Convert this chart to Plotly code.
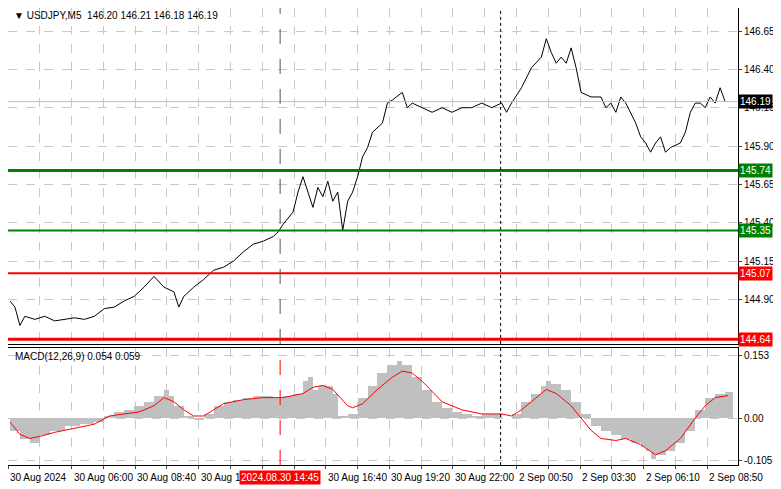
import plotly.graph_objects as go

# bar positions (5-minute bars, chart units) and close prices
bars = [5, 10, 15, 20, 30, 40, 50, 60, 70, 80, 90, 100, 110, 120, 130, 140, 150, 160, 170, 175,
        180, 190, 200, 210, 220, 230, 240, 250, 260, 270, 275, 280, 290, 295, 300, 305, 310, 315, 320, 325,
        330, 335, 340, 345, 350, 355, 360, 365, 370, 380, 385, 390, 400, 405, 410, 420, 430, 440, 450, 460,
        470, 480, 490, 500, 505, 510, 520, 530, 540, 545, 550, 555, 560, 565, 570, 575, 580, 590, 600, 605,
        610, 615, 620, 625, 630, 635, 640, 645, 650, 655, 660, 665, 670, 680, 685, 690, 695, 700, 705, 710,
        715, 720, 725]
close = [144.89, 144.85, 144.73, 144.79, 144.77, 144.79, 144.76, 144.77, 144.78, 144.77, 144.79, 144.84, 144.85, 144.89, 144.92, 144.98, 145.05, 144.98, 144.95, 144.85,
         144.92, 144.98, 145.03, 145.09, 145.11, 145.15, 145.21, 145.26, 145.28, 145.31, 145.34, 145.39, 145.47, 145.60, 145.70, 145.60, 145.50, 145.63, 145.57, 145.67,
         145.54, 145.60, 145.35, 145.54, 145.60, 145.70, 145.83, 145.89, 145.99, 146.05, 146.18, 146.20, 146.25, 146.15, 146.18, 146.15, 146.12, 146.15, 146.12, 146.15,
         146.15, 146.18, 146.15, 146.18, 146.12, 146.18, 146.28, 146.41, 146.48, 146.60, 146.51, 146.44, 146.48, 146.44, 146.54, 146.41, 146.25, 146.22, 146.22, 146.15,
         146.18, 146.12, 146.22, 146.18, 146.12, 146.05, 145.96, 145.92, 145.86, 145.92, 145.96, 145.86, 145.89, 145.92, 145.99, 146.12, 146.18, 146.18, 146.15, 146.22,
         146.18, 146.28, 146.19]

hist_x = [5, 15, 25, 35, 45, 60, 75, 90, 100, 110, 120, 130, 140, 150, 160, 165, 170, 180, 190, 200,
          210, 220, 230, 240, 250, 260, 270, 280, 290, 300, 305, 310, 315, 320, 330, 335, 340, 345, 355, 365,
          375, 385, 395, 400, 410, 420, 430, 440, 450, 460, 470, 480, 490, 500, 510, 520, 530, 540, 545, 550,
          560, 570, 580, 590, 600, 610, 620, 630, 640, 645, 650, 655, 665, 675, 685, 695, 705, 715, 725]
macd = [-0.03, -0.05, -0.06, -0.04, -0.03, -0.02, -0.015, -0.01, 0.005, 0.015, 0.02, 0.03, 0.04, 0.055, 0.07, 0.055, 0.03, 0.005, -0.005, 0.01,
        0.03, 0.04, 0.045, 0.05, 0.055, 0.055, 0.05, 0.055, 0.06, 0.09, 0.10, 0.07, 0.08, 0.08, 0.06, 0.005, 0.005, 0.01, 0.05, 0.08,
        0.11, 0.13, 0.14, 0.13, 0.10, 0.07, 0.04, 0.025, 0.015, 0.01, 0.005, 0.01, 0.01, 0.0, 0.01, 0.04, 0.06, 0.08, 0.09, 0.085,
        0.07, 0.04, 0.01, -0.02, -0.03, -0.04, -0.05, -0.06, -0.07, -0.08, -0.10, -0.09, -0.08, -0.06, -0.03, 0.02, 0.05, 0.06, 0.065]

sig_x = [5, 15, 25, 35, 50, 70, 90, 105, 120, 135, 150, 160, 170, 180, 190, 200, 210, 220, 240, 260,
         280, 300, 310, 320, 330, 345, 350, 360, 375, 390, 400, 410, 420, 440, 460, 480, 500, 510, 520, 535,
         545, 555, 570, 590, 600, 615, 625, 640, 655, 665, 680, 695, 705, 715, 728]
signal = [-0.01, -0.04, -0.05, -0.045, -0.035, -0.025, -0.015, 0.005, 0.01, 0.015, 0.03, 0.05, 0.04, 0.02, 0.005, 0.005, 0.02, 0.035, 0.045, 0.05,
          0.05, 0.06, 0.075, 0.08, 0.07, 0.03, 0.025, 0.035, 0.07, 0.10, 0.115, 0.11, 0.09, 0.04, 0.02, 0.01, 0.01, 0.005, 0.02, 0.05,
          0.07, 0.06, 0.03, -0.03, -0.05, -0.055, -0.05, -0.065, -0.09, -0.08, -0.05, 0.0, 0.03, 0.05, 0.055]

price_ticks = [146.65, 146.40, 146.15, 145.90, 145.65, 145.40, 145.15, 144.90]
levels = [145.74, 145.35, 145.07, 144.64]
level_colors = ["#008000", "#008000", "#ff0000", "#ff0000"]
last_price = 146.19
time_pos = [3, 67, 131, 195, 323, 387, 451, 515, 579, 643, 707]
time_labels = ["30 Aug 2024", "30 Aug 06:00", "30 Aug 08:40", "30 Aug 11", "30 Aug 16:40", "30 Aug 19:20",
               "30 Aug 22:00", "2 Sep 00:50", "2 Sep 03:30", "2 Sep 06:10", "2 Sep 08:50"]
cursor_pos, cursor_label = 277, "2024.08.30 14:45"
session_pos = 499

FONT = "Liberation Sans"
grid_x = list(range(3, 739, 32))
widths = [b - a for a, b in zip(hist_x[:-1], hist_x[1:])] + [8]

fig = go.Figure()
fig.add_trace(go.Scatter(x=bars, y=close, mode="lines", line=dict(color="black", width=1),
                         xaxis="x", yaxis="y", hoverinfo="skip"))
fig.add_trace(go.Bar(x=hist_x, y=macd, width=widths, marker=dict(color="#c0c0c0", line_width=0),
                     xaxis="x2", yaxis="y2", offset=0))
fig.add_trace(go.Scatter(x=sig_x, y=signal, mode="lines", line=dict(color="red", width=1),
                         xaxis="x2", yaxis="y2"))

shapes = []
for lv, c in zip(levels, level_colors):
    shapes.append(dict(type="line", xref="x domain", yref="y", x0=0, x1=1, y0=lv, y1=lv,
                       line=dict(color=c, width=3 if lv in (145.74, 144.64) else 2)))
shapes.append(dict(type="line", xref="x domain", yref="y", x0=0, x1=1, y0=last_price, y1=last_price,
                   line=dict(color="#c0c0c0", width=1)))
for ya in ["y", "y2"]:
    shapes.append(dict(type="line", xref="x", yref=ya + " domain", x0=cursor_pos, x1=cursor_pos, y0=0, y1=1,
                       line=dict(color="#555555" if ya == "y" else "red", width=1, dash="longdash")))
    shapes.append(dict(type="line", xref="x", yref=ya + " domain", x0=session_pos, x1=session_pos, y0=0, y1=1,
                       line=dict(color="black", width=1, dash="dot")))

ann = [dict(xref="paper", yref="paper", x=0.005, y=1.0, xanchor="left", yanchor="top",
            text="▼ USDJPY,M5  146.20 146.21 146.18 146.19", showarrow=False,
            font=dict(size=10, color="black", family=FONT)),
       dict(xref="x2", yref="y2 domain", x=8, y=0.99, xanchor="left", yanchor="top",
            text="MACD(12,26,9) 0.054 0.059", showarrow=False, font=dict(size=10, color="black", family=FONT))]
for lv, c in zip(levels, level_colors):
    ann.append(dict(xref="paper", yref="y", x=1.0, y=lv, xanchor="left", yanchor="middle",
                    text=f"{lv:.2f}", showarrow=False, bgcolor=c, borderpad=1,
                    font=dict(size=10, color="white", family=FONT)))
ann.append(dict(xref="paper", yref="y", x=1.0, y=last_price, xanchor="left", yanchor="middle",
                text=f"{last_price:.2f}", showarrow=False, bgcolor="black", borderpad=1,
                font=dict(size=10, color="white", family=FONT)))
for p, t in zip(time_pos, time_labels):
    ann.append(dict(xref="x2", yref="paper", x=p, y=-0.012, xanchor="left", yanchor="top",
                    text=t, showarrow=False, font=dict(size=10, color="black", family=FONT)))
ann.append(dict(xref="x2", yref="paper", x=cursor_pos, y=-0.012, xanchor="center", yanchor="top",
                text=cursor_label, showarrow=False, bgcolor="red", borderpad=1,
                font=dict(size=10, color="white", family=FONT)))

axis_common = dict(showline=True, linecolor="black", linewidth=1, mirror=True, zeroline=False,
                   gridcolor="#c8c8c8", griddash="dash", gridwidth=1)
fig.update_layout(
    width=773, height=481, paper_bgcolor="white", plot_bgcolor="white", showlegend=False,
    margin=dict(l=0, r=43, t=0, b=24, autoexpand=False), bargap=0,
    xaxis=dict(domain=[0, 1], anchor="y", range=[3, 738], tickvals=grid_x, showticklabels=False, **axis_common),
    yaxis=dict(domain=[0.265, 1], range=[144.61, 146.80], side="right", tickvals=price_ticks,
               ticktext=[f"{v:.2f}" for v in price_ticks], ticks="outside", ticklen=3,
               tickfont=dict(size=10, family=FONT, color="black"), **axis_common),
    xaxis2=dict(domain=[0, 1], anchor="y2", range=[3, 738], tickvals=grid_x, showticklabels=False,
                ticks="outside", ticklen=3, **axis_common),
    yaxis2=dict(domain=[0, 0.2565], range=[-0.115, 0.172], side="right", tickvals=[0.153, 0.0, -0.105],
                ticktext=["0.153", "0.00", "-0.105"], ticks="outside", ticklen=3,
                tickfont=dict(size=10, family=FONT, color="black"), **axis_common),
    shapes=shapes, annotations=ann,
)
fig.write_html("out.html")
